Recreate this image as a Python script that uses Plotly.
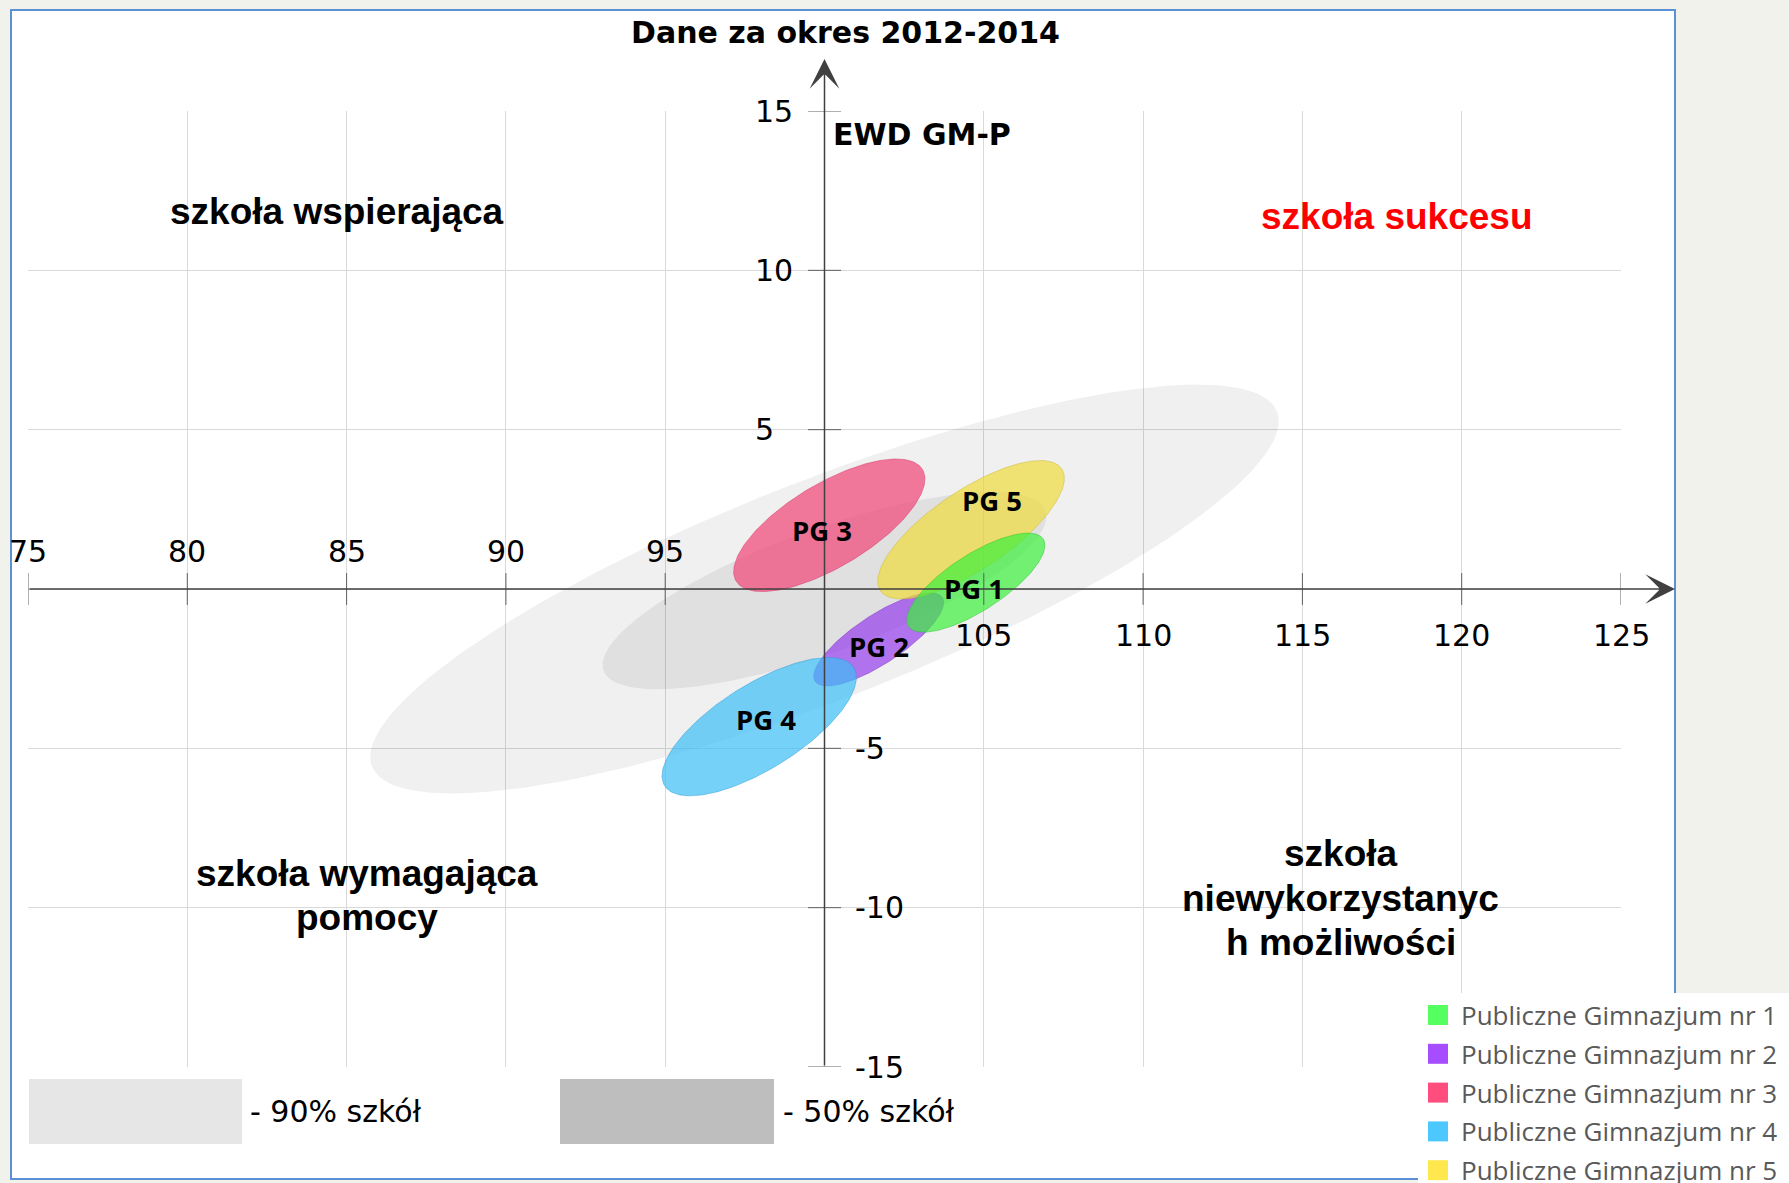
import numpy as np
import plotly.graph_objects as go

# ---------------- data ----------------
schools = ["Publiczne Gimnazjum nr 1", "Publiczne Gimnazjum nr 2", "Publiczne Gimnazjum nr 3",
           "Publiczne Gimnazjum nr 4", "Publiczne Gimnazjum nr 5"]
short_names = ["PG 1", "PG 2", "PG 3", "PG 4", "PG 5"]
center_x = [104.75, 101.70, 100.15, 97.95, 104.60]      # wynik egzaminu
center_y = [0.20, -1.58, 2.00, -4.32, 1.86]             # EWD
semi_major = [2.52, 2.39, 3.41, 3.50, 3.43]
semi_minor = [0.88, 0.76, 1.31, 1.33, 1.24]
tilt_deg = [32.9, 33.4, 30.9, 32.0, 33.9]
label_x = [104.70, 101.71, 99.93, 98.16, 105.26]
label_y = [0.03, -1.80, 1.85, -4.09, 2.77]
fill_colors = ["rgba(60,240,60,0.70)", "rgba(150,60,235,0.70)", "rgba(240,70,120,0.72)",
               "rgba(60,190,245,0.70)", "rgba(240,220,60,0.70)"]
edge_colors = ["rgba(40,190,40,0.45)", "rgba(120,40,200,0.45)", "rgba(210,50,100,0.45)",
               "rgba(40,150,210,0.45)", "rgba(200,180,40,0.45)"]
legend_colors = ["#55ff5f", "#a64dff", "#ff4d7d", "#4dc8ff", "#ffe84d"]
draw_order = [1, 3, 2, 4, 0]

band_labels = ["- 90% szkół", "- 50% szkół"]
band_cx = [100.0, 100.0]
band_cy = [0.0, -0.05]
band_a = [15.25, 7.37]
band_b = [3.42, 1.92]
band_tilt = [21.4, 19.9]
band_fill = ["rgba(0,0,0,0.058)", "rgba(0,0,0,0.065)"]
band_swatch = ["#e6e6e6", "#bebebe"]

x_grid = [75, 80, 85, 90, 95, 100, 105, 110, 115, 120, 125]
y_grid = [-15, -10, -5, 0, 5, 10, 15]
x_tick_vals = [75, 80, 85, 90, 95, 105, 110, 115, 120, 125]
x_tick_text = ["75", "80", "85", "90", "95", "105", "110", "115", "120", "125"]
y_tick_vals = [15, 10, 5, -5, -10, -15]
y_tick_text = ["15", "10", "5", "-5", "-10", "-15"]

title_text = "Dane za okres 2012-2014"
x_title = "wynik egzaminu gimnazjalnego"
y_title = "EWD GM-P"

# ---------------- geometry helpers ----------------
W, H = 1789, 1183
ML, MR, MT, MB = 28, 168, 111, 116
PW = W - ML - MR
PH = H - MT - MB
PAPER_BG = "#f1f2ec"


def px(x):
    return (x - ML) / PW


def py(y):
    return (H - MB - y) / PH


def ellipse(cx, cy, a, b, ang, n=240):
    t = np.linspace(0, 2 * np.pi, n)
    th = np.deg2rad(ang)
    x = cx + a * np.cos(t) * np.cos(th) - b * np.sin(t) * np.sin(th)
    y = cy + a * np.cos(t) * np.sin(th) + b * np.sin(t) * np.cos(th)
    return x, y


fig = go.Figure()

for i in range(len(band_cx)):
    ex, ey = ellipse(band_cx[i], band_cy[i], band_a[i], band_b[i], band_tilt[i])
    fig.add_trace(go.Scatter(x=ex, y=ey, mode="lines", fill="toself",
                             fillcolor=band_fill[i], line=dict(width=0.6, color="rgba(0,0,0,0.03)"),
                             hoverinfo="skip", showlegend=False))

for i in draw_order:
    ex, ey = ellipse(center_x[i], center_y[i], semi_major[i], semi_minor[i], tilt_deg[i])
    fig.add_trace(go.Scatter(x=ex, y=ey, mode="lines", fill="toself",
                             fillcolor=fill_colors[i], line=dict(width=1, color=edge_colors[i]),
                             name=schools[i], hoverinfo="skip", showlegend=False))

shapes = []
# white panel
shapes.append(dict(type="rect", xref="paper", yref="paper", x0=px(11), x1=px(1675),
                   y0=py(1179), y1=py(10), fillcolor="white",
                   line=dict(color="#5b8fd6", width=2), layer="below"))
# band swatches
shapes.append(dict(type="rect", xref="paper", yref="paper", x0=px(29), x1=px(242),
                   y0=py(1144), y1=py(1079), fillcolor=band_swatch[0], line=dict(width=0), layer="below"))
shapes.append(dict(type="rect", xref="paper", yref="paper", x0=px(560), x1=px(774),
                   y0=py(1144), y1=py(1079), fillcolor=band_swatch[1], line=dict(width=0), layer="below"))
# tick marks on axes
for v in x_tick_vals:
    shapes.append(dict(type="line", xref="x", yref="y", x0=v, x1=v, y0=-0.5, y1=0.5,
                       line=dict(color="#606060", width=1), layer="above"))
for v in y_tick_vals:
    shapes.append(dict(type="line", xref="x", yref="y", x0=99.48, x1=100.52, y0=v, y1=v,
                       line=dict(color="#606060", width=1), layer="above"))
# legend background
shapes.append(dict(type="rect", xref="paper", yref="paper", x0=px(1418), x1=px(1795),
                   y0=py(1190), y1=py(993), fillcolor="white", line=dict(width=0), layer="above"))
for i in range(len(schools)):
    yc = 1015 + i * 38.8
    shapes.append(dict(type="rect", xref="paper", yref="paper", x0=px(1428), x1=px(1448),
                       y0=py(yc + 10), y1=py(yc - 10), fillcolor=legend_colors[i],
                       line=dict(width=0), layer="above"))

ann = []
# axes with arrows
ann.append(dict(xref="paper", yref="y", x=px(1675), y=0, axref="pixel", ayref="pixel",
                ax=-(1675 - ML), ay=0, text="", showarrow=True, arrowhead=3,
                arrowsize=3.3, arrowwidth=1.5, arrowcolor="#404040"))
ann.append(dict(xref="x", yref="paper", x=100, y=py(59), axref="pixel", ayref="pixel",
                ax=0, ay=(H - MB - 59), text="", showarrow=True, arrowhead=3,
                arrowsize=3.3, arrowwidth=1.5, arrowcolor="#404040"))

tick_font = dict(family="DejaVu Sans", size=30, color="black")
for v, t in zip(x_tick_vals, x_tick_text):
    yy = 1.19 if v < 100 else -1.47
    ann.append(dict(xref="x", yref="y", x=v, y=yy, text=t, showarrow=False,
                    xanchor="center", yanchor="middle", font=tick_font))
for v, t in zip(y_tick_vals, y_tick_text):
    xx = 97.77 if v > 0 else 100.91
    ann.append(dict(xref="x", yref="y", x=xx, y=v, text=t, showarrow=False,
                    xanchor="left", yanchor="middle", font=tick_font))

bold_dv = dict(family="DejaVu Sans", size=30, color="black", weight="bold")
ann.append(dict(xref="paper", yref="paper", x=px(845), y=py(32), text=title_text,
                showarrow=False, xanchor="center", yanchor="middle", font=bold_dv))
ann.append(dict(xref="x", yref="y", x=100, y=14.25, xshift=6, text=y_title,
                showarrow=False, xanchor="left", yanchor="middle", font=bold_dv))
ann.append(dict(xref="x", yref="y", x=125.95, y=-2.42, text=x_title,
                showarrow=False, xanchor="right", yanchor="middle", font=bold_dv))

quad_font = dict(family="Liberation Sans", size=37, color="black", weight="bold")
quad_texts = [("szkoła wspierająca", 84.70, 11.86, "black"),
              ("szkoła sukcesu", 117.94, 11.70, "#ff0000"),
              ("szkoła wymagająca", 85.64, -8.93, "black"),
              ("pomocy", 85.64, -10.31, "black"),
              ("szkoła", 116.21, -8.30, "black"),
              ("niewykorzystanyc", 116.21, -9.70, "black"),
              ("h możliwości", 116.21, -11.08, "black")]
for t, xx, yy, c in quad_texts:
    f = dict(quad_font)
    f["color"] = c
    ann.append(dict(xref="x", yref="y", x=xx, y=yy, text=t, showarrow=False,
                    xanchor="center", yanchor="middle", font=f))

for i in range(len(short_names)):
    ann.append(dict(xref="x", yref="y", x=label_x[i], y=label_y[i], text=short_names[i],
                    showarrow=False, xanchor="center", yanchor="middle",
                    font=dict(family="Open Sans", size=27.5, color="black", weight="bold")))

ann.append(dict(xref="paper", yref="paper", x=px(248), y=py(1111), text=band_labels[0],
                showarrow=False, xanchor="left", yanchor="middle", font=tick_font))
ann.append(dict(xref="paper", yref="paper", x=px(781), y=py(1111), text=band_labels[1],
                showarrow=False, xanchor="left", yanchor="middle", font=tick_font))

for i in range(len(schools)):
    yc = 1015 + i * 38.8
    ann.append(dict(xref="paper", yref="paper", x=px(1459), y=py(yc), text=schools[i],
                    showarrow=False, xanchor="left", yanchor="middle",
                    font=dict(family="Open Sans", size=26, color="#595959")))

fig.update_layout(
    width=W, height=H,
    margin=dict(l=ML, r=MR, t=MT, b=MB, pad=0, autoexpand=False),
    paper_bgcolor=PAPER_BG, plot_bgcolor="rgba(0,0,0,0)",
    showlegend=False,
    xaxis=dict(range=[75, 125], tickvals=x_grid, showticklabels=False, ticks="",
               showgrid=True, gridcolor="#d9d9d9", gridwidth=1, zeroline=False,
               showline=False, fixedrange=True),
    yaxis=dict(range=[-15, 15], tickvals=y_grid, showticklabels=False, ticks="",
               showgrid=True, gridcolor="#d9d9d9", gridwidth=1, zeroline=False,
               showline=False, fixedrange=True),
    shapes=shapes, annotations=ann,
)

fig.write_html(
    "out.html",
    config={"displayModeBar": False},
    post_script="document.body.style.margin='0';document.body.style.overflow='hidden';"
                "document.body.style.background='" + PAPER_BG + "';",
)
